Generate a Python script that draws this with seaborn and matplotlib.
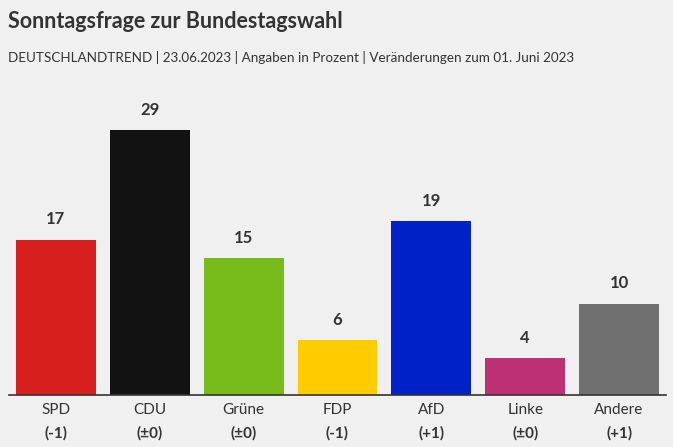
import matplotlib
matplotlib.use("Agg")
from matplotlib import pyplot as plt
import matplotlib.transforms as mtransforms
import seaborn as sns
import pandas as pd

# Werte aus der Grafik
parteien = ["SPD", "CDU", "Grüne", "FDP", "AfD", "Linke", "Andere"]
prozent = [17, 29, 15, 6, 19, 4, 10]
veraenderung = ["(-1)", "(±0)", "(±0)", "(-1)", "(+1)", "(±0)", "(+1)"]
farben = ["#d71f1d", "#121212", "#78bc1b", "#ffcc00", "#0021c8", "#bd3075", "#707070"]

bg = "#f0f0f0"
textfarbe = "#333333"


def main():
    sns.set_theme(style="white")
    plt.rcParams["font.family"] = ["Lato", "DejaVu Sans"]

    tabelle = pd.DataFrame({"Partei": parteien, "Prozent": prozent})

    fig = plt.figure(figsize=(6.73, 4.47), dpi=100, facecolor=bg)
    ax = fig.add_axes([9 / 673, 52 / 447, 657 / 673, 295 / 447], facecolor=bg)

    sns.barplot(data=tabelle, x="Partei", y="Prozent", hue="Partei",
                palette=farben, legend=False, width=0.85, saturation=1,
                linewidth=0, ax=ax)

    for cont in ax.containers:
        ax.bar_label(cont, fmt="%d", padding=9, fontsize=12, fontweight="bold",
                     color=textfarbe)

    ax.set_xlim(-0.5, 6.5)
    ax.set_ylim(0, 32.3)
    ax.set_xlabel("")
    ax.set_ylabel("")
    ax.set_yticks([])
    for s in ["top", "right", "left"]:
        ax.spines[s].set_visible(False)
    ax.spines["bottom"].set_color("#333333")
    ax.spines["bottom"].set_linewidth(1.2)
    ax.tick_params(axis="x", length=0, pad=6, labelsize=11, labelcolor=textfarbe)

    trans = mtransforms.blended_transform_factory(ax.transData, ax.transAxes)
    for i, v in enumerate(veraenderung):
        ax.annotate(v, xy=(i, 0), xycoords=trans, xytext=(0, -22.5),
                    textcoords="offset points", ha="center", va="top",
                    fontsize=11, fontweight="bold", color=textfarbe)

    fig.text(8 / 673, 1 - 22 / 447, "Sonntagsfrage zur Bundestagswahl",
             fontsize=15.5, fontweight="bold", color=textfarbe, va="center")
    fig.text(8 / 673, 1 - 57 / 447,
             "DEUTSCHLANDTREND | 23.06.2023 | Angaben in Prozent | Veränderungen zum 01. Juni 2023",
             fontsize=9.7, color=textfarbe, va="center")

    fig.savefig("out.png", dpi=100, facecolor=bg)


if __name__ == "__main__":
    main()
